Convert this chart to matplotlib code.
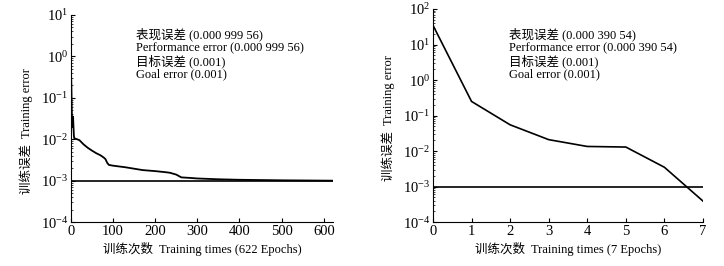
import numpy as np
import matplotlib
matplotlib.use("Agg")
import matplotlib.pyplot as plt
from matplotlib.ticker import LogLocator, NullFormatter

plt.rcParams['font.family'] = ['Liberation Serif', 'Noto Sans CJK SC']
plt.rcParams['mathtext.fontset'] = 'stix'
plt.rcParams['font.size'] = 9

# Left run: 622 epochs
left_epochs = [0, 1, 2, 3, 4, 5, 6, 7, 8, 12, 20, 30, 40, 50, 60, 70, 78, 82, 86, 90,
               100, 130, 170, 200, 225, 235, 250, 262, 280, 300, 350, 400, 500, 600, 622]
left_error = [0.5, 0.2, 0.05, 0.02, 0.025, 0.035, 0.02, 0.012, 0.0105, 0.0102, 0.0095,
              0.0075, 0.0062, 0.0053, 0.0046, 0.0041, 0.0036, 0.0033, 0.0027, 0.0024,
              0.0023, 0.0021, 0.0018, 0.0017, 0.0016, 0.00155, 0.0014, 0.0012, 0.00117,
              0.00113, 0.00108, 0.00105, 0.00102, 0.001003, 0.00099956]
left_goal = 0.001

# Right run: 7 epochs
right_epochs = [0, 1, 2, 3, 4, 5, 6, 7]
right_error = [35, 0.25, 0.055, 0.021, 0.0135, 0.013, 0.0035, 0.00039054]
right_goal = 0.001

left_notes = ["表现误差 (0.000 999 56)", "Performance error (0.000 999 56)",
              "目标误差 (0.001)", "Goal error (0.001)"]
right_notes = ["表现误差 (0.000 390 54)", "Performance error (0.000 390 54)",
               "目标误差 (0.001)", "Goal error (0.001)"]

fig = plt.figure(figsize=(7.24, 2.66), dpi=100)
ax1 = fig.add_axes([0.098, 0.165, 0.362, 0.779])
ax2 = fig.add_axes([0.598, 0.165, 0.373, 0.801])


def style(ax, xmax, ymax, xticks, xlabel, ylab_x, ylab_y):
    ax.set_yscale('log')
    ax.set_xlim(0, xmax)
    ax.set_ylim(1e-4, ymax)
    ax.set_xticks(xticks)
    ax.yaxis.set_major_locator(LogLocator(base=10))
    ax.yaxis.set_minor_locator(LogLocator(base=10, subs=np.arange(2, 10)))
    ax.yaxis.set_minor_formatter(NullFormatter())
    for s in ['top', 'right']:
        ax.spines[s].set_visible(False)
    ax.tick_params(direction='in', length=3, width=0.8, labelsize=10.5, pad=2)
    ax.tick_params(which='minor', direction='in', length=1.5, width=0.5)
    ax.set_xlabel(xlabel, labelpad=3)
    ax.set_ylabel("训练误差  Training error")
    ax.yaxis.set_label_coords(ylab_x, ylab_y)


style(ax1, 622, 10, range(0, 700, 100), "训练次数  Training times (622 Epochs)", -0.145, 0.44)
style(ax2, 7, 100, range(0, 8), "训练次数  Training times (7 Epochs)", -0.141, 0.49)

ax1.plot(left_epochs, left_error, color='black', lw=1.3)
ax1.axhline(left_goal, color='black', lw=1.2)
ax2.plot(right_epochs, right_error, color='black', lw=1.2)
ax2.axhline(right_goal, color='black', lw=1.2)

for i, t in enumerate(left_notes):
    ax1.text(0.248, 0.905 - i * 0.064, t, transform=ax1.transAxes, va='center', fontsize=9)
for i, t in enumerate(right_notes):
    ax2.text(0.281, 0.88 - i * 0.062, t, transform=ax2.transAxes, va='center', fontsize=9)

fig.savefig("out.png", dpi=100)
